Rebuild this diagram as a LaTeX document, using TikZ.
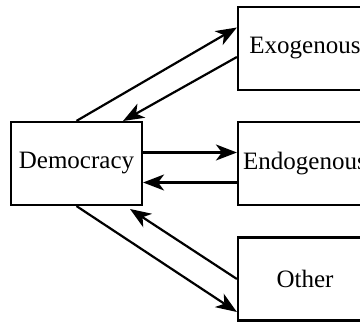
\documentclass[tikz,border=0pt]{standalone}
\usepackage{fontspec}
\setmainfont{Liberation Serif}
\usetikzlibrary{arrows.meta}
\begin{document}
\begin{tikzpicture}[x=1pt,y=-1pt,
  box/.style={draw,line width=2.2pt,minimum width=134pt,minimum height=83pt,inner sep=0pt,font=\fontsize{25}{28}\selectfont},
  arr/.style={line width=2.2pt,-{Stealth[length=21pt,width=16pt,inset=6pt]}}]
\useasboundingbox (0,0) rectangle (360,323);
\begin{scope}
\clip (0,0) rectangle (360,323);
\node[box,minimum width=131pt] (dem) at (76.5,163.5) {Democracy};
\node[box] (exo) at (305,48.5) {Exogenous};
\node[box] (endo) at (305,163.5) {Endogenous};
\node[box] (oth) at (305,279) {Other};
\end{scope}
\coordinate (t1) at (123,121);
\coordinate (t2) at (130,209);
\draw[arr] (dem.north) -- ([yshift=21pt]exo.west);
\draw[arr] ([yshift=-8.5pt]exo.west) -- (t1);
\draw[arr] ([yshift=11pt]dem.east) -- ([yshift=11pt]endo.west);
\draw[arr] ([yshift=-19pt]endo.west) -- ([yshift=-19pt]dem.east);
\draw[arr] (dem.south) -- ([yshift=-33pt]oth.west);
\draw[arr] (oth.west) -- (t2);
\end{tikzpicture}
\end{document}
